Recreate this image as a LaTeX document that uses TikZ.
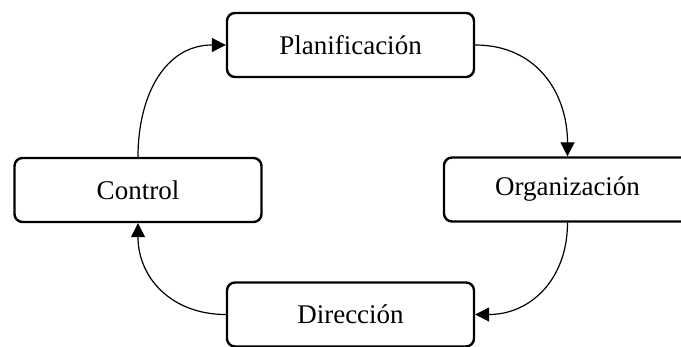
\documentclass[tikz,border=0pt]{standalone}
\usepackage{fontspec}
\setmainfont{Liberation Serif}
\usetikzlibrary{arrows.meta}
\begin{document}
\begin{tikzpicture}[x=1pt,y=-1pt,
  box/.style={draw=black, line width=2.4pt, rounded corners=8pt, fill=white,
    minimum width=247pt, minimum height=64pt, inner sep=0pt,
    font=\fontsize{27}{30}\selectfont},
  conn/.style={draw=black, line width=1.2pt, -{Triangle[length=14pt,width=14pt]}}]
\clip (0,0) rectangle (681,347);
\useasboundingbox (0,0) rectangle (681,347);
\node[box] (plan) at (350.5,45) {Planificación};
\node[box] (org) at (567.5,189.5) {Organización};
\node[box] (ctrl) at (138,190) {Control};
\node[box] (dir) at (350.5,314.5) {Dirección};
\draw[conn] (plan.east) to[out=0,in=90,looseness=1.1] (org.north);
\draw[conn] (org.south) to[out=-90,in=0,looseness=1.1] (dir.east);
\draw[conn] (dir.west) to[out=180,in=-90,looseness=1.1] (ctrl.south);
\draw[conn] (ctrl.north) to[out=90,in=180,looseness=1.1] (plan.west);
\end{tikzpicture}
\end{document}
